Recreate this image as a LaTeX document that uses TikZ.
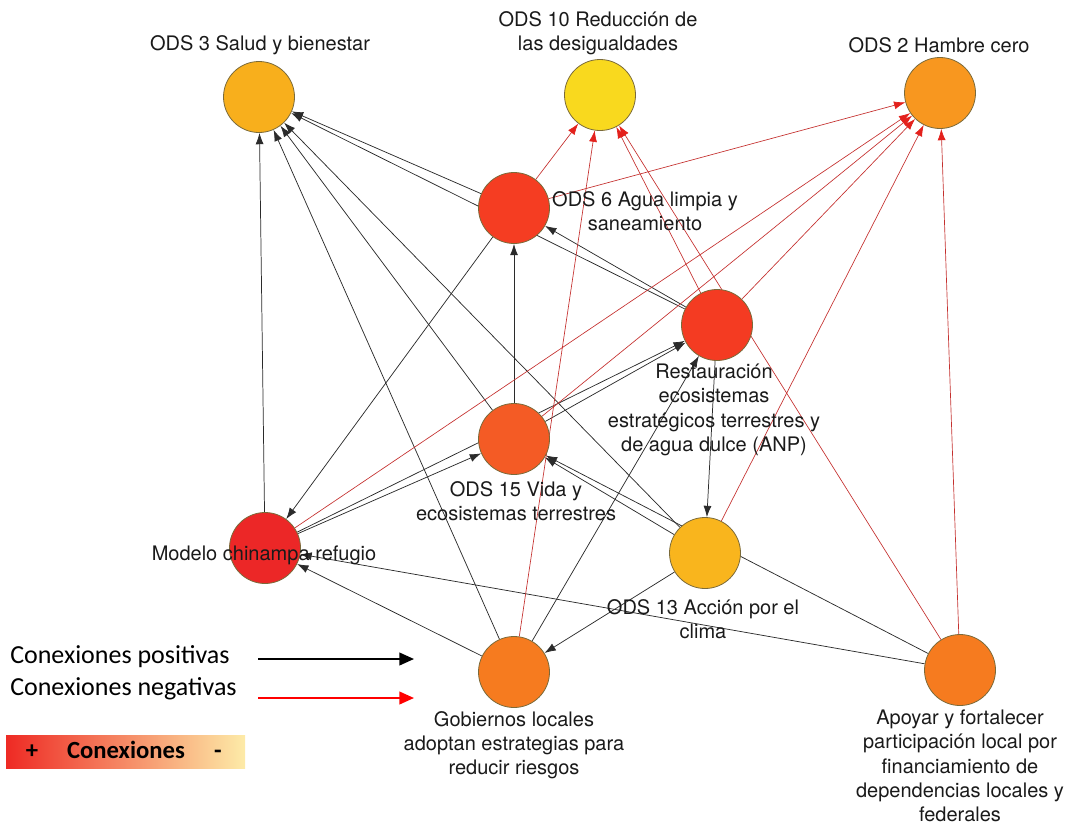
\documentclass[tikz,border=0pt]{standalone}
\usepackage{fontspec}
\setmainfont{TeX Gyre Heros}
\newfontfamily\legfont{Carlito}
\usetikzlibrary{arrows.meta,backgrounds}
\definecolor{cS3}{HTML}{F8AF1C}
\definecolor{cS10}{HTML}{F9D91E}
\definecolor{cS2}{HTML}{F8971F}
\definecolor{cS6}{HTML}{F53D22}
\definecolor{cR}{HTML}{F43B22}
\definecolor{cS15}{HTML}{F45B25}
\definecolor{cM}{HTML}{EC2727}
\definecolor{cS13}{HTML}{F9B51D}
\definecolor{cG}{HTML}{F67B1F}
\definecolor{cA}{HTML}{F67B1F}
\definecolor{nodeborder}{HTML}{7A6A3A}
\definecolor{posline}{HTML}{2B2B2B}
\definecolor{negline}{HTML}{C4302E}
\definecolor{negtip}{HTML}{E3211C}
\definecolor{labeltext}{HTML}{1A1A1A}
\definecolor{legred}{HTML}{EE2A24}
\definecolor{legmid}{HTML}{F8A868}
\definecolor{legyellow}{HTML}{FDEBA8}
\definecolor{legarrowred}{HTML}{FF0000}
\begin{document}
\begin{tikzpicture}[x=0.75pt,y=-0.75pt,
  sdg/.style={circle, draw=nodeborder, line width=0.6pt, minimum size=53.25pt, inner sep=0pt},
  pe/.style={draw=posline, line width=0.55pt, -{Latex[length=8.5pt,width=6pt]}},
  ne/.style={draw=negline, line width=0.5pt, -{Latex[length=8.5pt,width=6pt,color=negtip]}},
  lbl/.style={font=\fontsize{15}{18.2}\selectfont, align=center, inner sep=0pt, text=labeltext},
  legtext/.style={font=\legfont\fontsize{19.5}{22}\selectfont, inner sep=0pt, text=black},
  legbold/.style={font=\legfont\bfseries\fontsize{18.5}{22}\selectfont, inner sep=0pt, text=black},
  legpos/.style={draw=black, line width=1.5pt, -{Triangle[length=11pt,width=9.5pt]}},
  legneg/.style={draw=legarrowred, line width=1.5pt, -{Triangle[length=11pt,width=9.5pt]}},
  gradbox/.style={left color=legred, middle color=legmid, right color=legyellow, draw=none,
    minimum width=179.25pt, minimum height=24.75pt, inner sep=0pt}
]
\useasboundingbox (0,0) rectangle (1067,825);

% nodes
\node[sdg, fill=cS3]  (S3)  at (259,97)  {};
\node[sdg, fill=cS10] (S10) at (600,95)  {};
\node[sdg, fill=cS2]  (S2)  at (940,93)  {};
\node[sdg, fill=cS6]  (S6)  at (514,208) {};
\node[sdg, fill=cR]   (R)   at (717,325) {};
\node[sdg, fill=cS15] (S15) at (514,439) {};
\node[sdg, fill=cM]   (M)   at (265,548) {};
\node[sdg, fill=cS13] (S13) at (705,553) {};
\node[sdg, fill=cG]   (G)   at (514,672) {};
\node[sdg, fill=cA]   (A)   at (960,670) {};

% connectors
\begin{scope}[on background layer]
\draw[pe] (M) -- (S3);
\draw[pe] (S15) -- (S3);
\draw[pe] (G) -- (S3);
\draw[pe] (S13) -- (S3);
\draw[pe] (S6) -- (S3);
\draw[pe] (R) -- (S3);
\draw[pe] (R) -- (S6);
\draw[pe] (S15) -- (S6);
\draw[pe] (S6) -- (M);
\draw[pe] (M) -- (S15);
\draw[pe] (M) -- (R);
\draw[pe] (S15) -- (R);
\draw[pe] (G) -- (R);
\draw[pe] (R) -- (S13);
\draw[pe] (S13) -- (S15);
\draw[pe] (A) -- (S15);
\draw[pe] (S13) -- (G);
\draw[pe] (G) -- (M);
\draw[pe] (A) -- (M);
\draw[ne] (S6) -- (S10);
\draw[ne] (G) -- (S10);
\draw[ne] (R) -- (S10);
\draw[ne] (A) -- (S10);
\draw[ne] (S6) -- (S2);
\draw[ne] (M) -- (S2);
\draw[ne] (S15) -- (S2);
\draw[ne] (R) -- (S2);
\draw[ne] (S13) -- (S2);
\draw[ne] (A) -- (S2);
\end{scope}

% labels
\node[lbl] (S3l)  at (260,45)  {ODS 3 Salud y bienestar};
\node[lbl] (S10l) at (598,33)  {ODS 10 Reducción de\\las desigualdades};
\node[lbl] (S2l)  at (939,45)  {ODS 2 Hambre cero};
\node[lbl] (S6l)  at (645,211) {ODS 6 Agua limpia y\\saneamiento};
\node[lbl] (Rl)   at (714,410) {Restauración\\ecosistemas\\estratégicos terrestres y\\de agua dulce (ANP)};
\node[lbl] (S15l) at (516,501) {ODS 15 Vida y\\ecosistemas terrestres};
\node[lbl] (Ml)   at (264,555) {Modelo chinampa refugio};
\node[lbl] (S13l) at (703,619) {ODS 13 Acción por el\\clima};
\node[lbl] (Gl)   at (514,745) {Gobiernos locales\\adoptan estrategias para\\reducir riesgos};
\node[lbl] (Al)   at (960,766) {Apoyar y fortalecer\\participación local por\\financiamiento de\\dependencias locales y\\federales};

% legend
\node[legtext, anchor=base west] (lpos) at (10,663) {Conexiones positivas};
\node[legtext, anchor=base west] (lneg) at (10,695) {Conexiones negativas};
\coordinate (lp1) at (258,659);
\coordinate (lp2) at (414,659);
\coordinate (ln1) at (258,698);
\coordinate (ln2) at (414,698);
\draw[legpos] (lp1) -- (lp2);
\draw[legneg] (ln1) -- (ln2);
\node[gradbox] (gbox) at (125.5,751.5) {};
\node[legbold, anchor=base] (gplus) at (32,758) {+};
\node[legbold, anchor=base] (gtext) at (126,758) {Conexiones};
\node[legbold, anchor=base] (gminus) at (218,758) {-};
\end{tikzpicture}
\end{document}
